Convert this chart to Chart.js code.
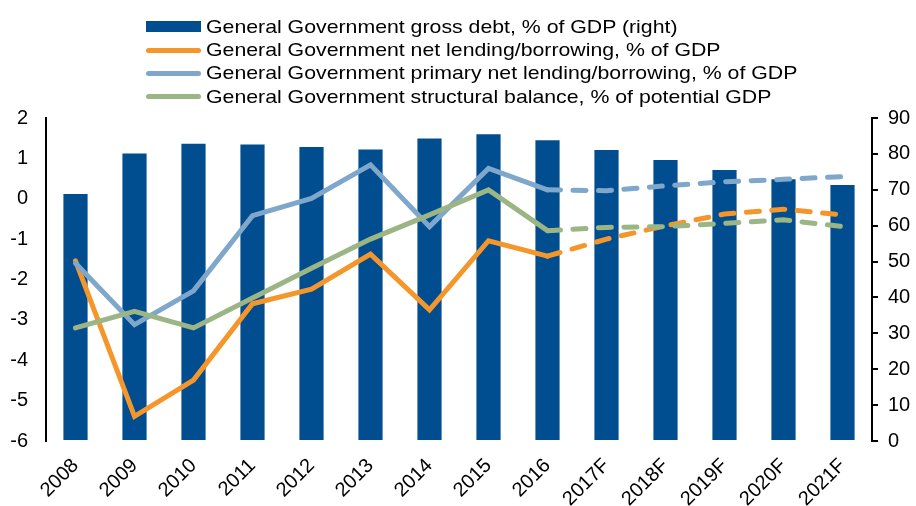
<!DOCTYPE html>
<html>
<head>
<meta charset="utf-8">
<script src="https://cdn.jsdelivr.net/npm/chart.js@4"></script>
<style>
  html, body { margin: 0; padding: 0; background: #fff; }
  #wrap { position: relative; width: 916px; height: 506px; }
  #legend { position: absolute; left: 146px; top: 15px; font-family: "Liberation Sans", Arial, sans-serif; font-size: 19px; color: #000; }
  .row { display: flex; align-items: center; height: 23.4px; white-space: nowrap; }
  .mark { width: 55px; margin-right: 5px; flex: none; }
  .bar { height: 11px; }
  .line { height: 5px; border-radius: 3px; }
  .txt { display: inline-block; transform: scaleX(1.12); transform-origin: left center; }
</style>
</head>
<body>
<div id="wrap">
  <canvas id="chart" width="916" height="506"></canvas>
  <div id="legend"></div>
</div>
<script>
const years = ['2008', '2009', '2010', '2011', '2012', '2013', '2014', '2015', '2016', '2017F', '2018F', '2019F', '2020F', '2021F'];

// right axis, % of GDP
const grossDebt = [68.8, 80.1, 82.8, 82.6, 81.9, 81.2, 84.3, 85.5, 83.8, 81.1, 78.3, 75.5, 72.9, 71.3];
// left axis, % of GDP
const netLending = [-1.54, -5.39, -4.49, -2.6, -2.24, -1.37, -2.75, -1.04, -1.42, -1.0, -0.67, -0.38, -0.26, -0.4];
const primaryLending = [-1.6, -3.12, -2.28, -0.42, 0.01, 0.84, -0.69, 0.75, 0.22, 0.2, 0.32, 0.42, 0.48, 0.55];
const structural = [-3.2, -2.79, -3.2, -2.46, -1.72, -1.0, -0.4, 0.22, -0.79, -0.71, -0.69, -0.61, -0.52, -0.69];

const leftTicks = [2, 1, 0, -1, -2, -3, -4, -5, -6];
const rightTicks = [90, 80, 70, 60, 50, 40, 30, 20, 10, 0];

const names = [
  'General Government gross debt, % of GDP (right)',
  'General Government net lending/borrowing, % of GDP',
  'General Government primary net lending/borrowing, % of GDP',
  'General Government structural balance, % of potential GDP'
];
const colors = ['#004d8f', '#f5962a', '#7ea7cb', '#9bb585'];

const firstForecast = 8; // 2016 -> dashed from here

function lineSet(label, data, color, order) {
  return {
    type: 'line',
    label: label,
    data: data,
    yAxisID: 'y',
    borderColor: color,
    backgroundColor: color,
    borderWidth: 5,
    borderCapStyle: 'round',
    pointRadius: 0,
    tension: 0,
    order: order,
    segment: {
      borderDash: ctx => ctx.p0DataIndex >= firstForecast ? [13, 12.5] : undefined
    }
  };
}

const legendEl = document.getElementById('legend');
names.forEach((n, i) => {
  const row = document.createElement('div');
  row.className = 'row';
  const m = document.createElement('span');
  m.className = 'mark ' + (i == 0 ? 'bar' : 'line');
  m.style.background = colors[i];
  row.appendChild(m);
  const t = document.createElement('span');
  t.className = 'txt';
  t.textContent = n;
  row.appendChild(t);
  legendEl.appendChild(row);
});

const tickFont = { family: 'Liberation Sans, Arial, sans-serif', size: 20 };

new Chart(document.getElementById('chart'), {
  type: 'bar',
  data: {
    labels: years,
    datasets: [
      {
        type: 'bar',
        label: names[0],
        data: grossDebt,
        yAxisID: 'y2',
        backgroundColor: colors[0],
        barPercentage: 0.41,
        categoryPercentage: 1,
        order: 10
      },
      lineSet(names[1], netLending, colors[1], 3),
      lineSet(names[2], primaryLending, colors[2], 2),
      lineSet(names[3], structural, colors[3], 1)
    ]
  },
  options: {
    responsive: false,
    animation: false,
    layout: { padding: { top: 118, left: 0, right: 0, bottom: 0 } },
    plugins: {
      legend: { display: false },
      title: { display: false },
      tooltip: { enabled: false }
    },
    scales: {
      x: {
        grid: { display: false },
        border: { display: false },
        ticks: { color: '#000', font: tickFont, maxRotation: 45, minRotation: 45, padding: 5 },
        afterFit: s => { s.height = 65; }
      },
      y: {
        position: 'left',
        min: -6,
        max: 2,
        afterBuildTicks: s => { s.ticks = leftTicks.map(v => ({ value: v })); },
        grid: { display: false, drawTicks: false },
        border: { display: true, color: '#000', width: 2 },
        ticks: { color: '#000', font: tickFont, padding: 18 },
        afterFit: s => { s.width = 46; }
      },
      y2: {
        position: 'right',
        min: 0,
        max: 90,
        afterBuildTicks: s => { s.ticks = rightTicks.map(v => ({ value: v })); },
        grid: { display: true, drawOnChartArea: false, drawTicks: true, tickLength: 6, color: '#000', lineWidth: 2 },
        border: { display: true, color: '#000', width: 2 },
        ticks: { color: '#000', font: tickFont, padding: 10 },
        afterFit: s => { s.width = 44; }
      }
    }
  }
});
</script>
</body>
</html>
